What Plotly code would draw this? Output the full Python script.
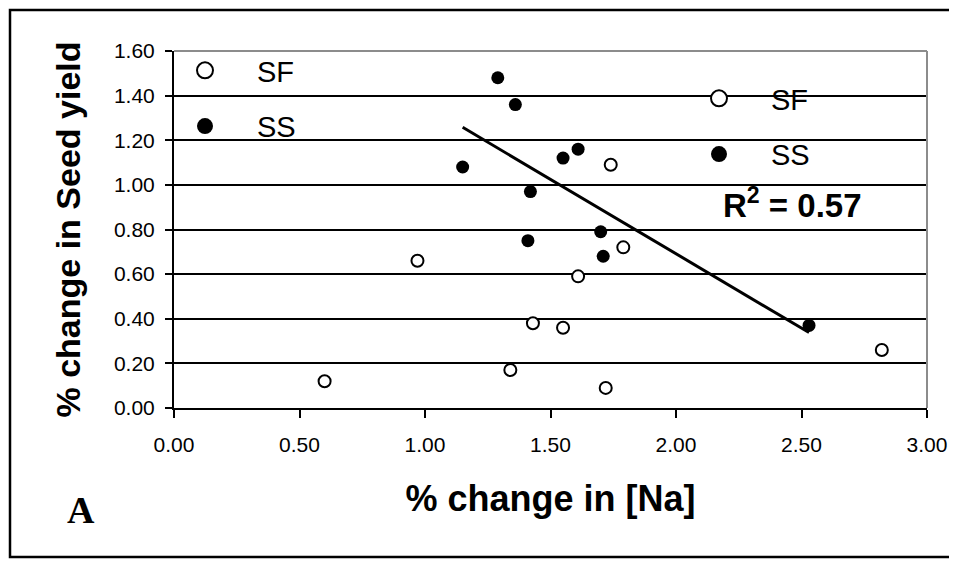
import numpy as np
import plotly.graph_objects as go

# ---- data ----
sf_x = [0.60, 0.97, 1.34, 1.43, 1.55, 1.61, 1.72, 1.74, 1.79, 2.82]
sf_y = [0.12, 0.66, 0.17, 0.38, 0.36, 0.59, 0.09, 1.09, 0.72, 0.26]
ss_x = [1.15, 1.29, 1.36, 1.41, 1.42, 1.55, 1.61, 1.70, 1.71, 2.53]
ss_y = [1.08, 1.48, 1.36, 0.75, 0.97, 1.12, 1.16, 0.79, 0.68, 0.37]
series_names = ["SF", "SS"]
x_title = "% change in [Na]"
y_title = "% change in Seed yield"
r2_label = "R<sup>2</sup> = 0.57"
panel_label = "A"

OFF = 8  # page body margin
W, H = 957 - OFF, 562 - OFF
L, R, T, B = 174 - OFF, 957 - 927, 51 - OFF, 562 - 408
PW, PH = W - L - R, H - T - B

def px_x(p):
    return (p - OFF - L) / PW

def px_y(p):
    return (T + PH - (p - OFF)) / PH

FONT = "Liberation Sans, Arial, sans-serif"

# linear trend of SS series
coef = np.polyfit(ss_x, ss_y, 1)
tx = np.array([min(ss_x), max(ss_x)])
ty = np.polyval(coef, tx)

fig = go.Figure()

open_marker = dict(symbol="circle", color="white", size=12, line=dict(color="black", width=2))
fill_marker = dict(symbol="circle", color="black", size=13, line=dict(color="black", width=0))

fig.add_trace(go.Scatter(x=sf_x, y=sf_y, mode="markers", name=series_names[0],
                         marker=open_marker, showlegend=False, legendgroup="sf"))
fig.add_trace(go.Scatter(x=ss_x, y=ss_y, mode="markers", name=series_names[1],
                         marker=fill_marker, showlegend=False, legendgroup="ss"))
fig.add_trace(go.Scatter(x=tx, y=ty, mode="lines", line=dict(color="black", width=3),
                         showlegend=False, hoverinfo="skip"))

leg_open = dict(symbol="circle", color="white", size=16, line=dict(color="black", width=2))
leg_fill = dict(symbol="circle", color="black", size=16, line=dict(width=0))
for lg in ["legend", "legend2"]:
    fig.add_trace(go.Scatter(x=[None], y=[None], mode="markers", name=series_names[0],
                             marker=leg_open, legend=lg, legendgroup="sf" + lg, showlegend=True))
    fig.add_trace(go.Scatter(x=[None], y=[None], mode="markers", name=series_names[1],
                             marker=leg_fill, legend=lg, legendgroup="ss" + lg, showlegend=True))

legend_common = dict(
    xanchor="left", yanchor="top", bgcolor="rgba(0,0,0,0)", borderwidth=0,
    font=dict(family=FONT, size=29, color="black"),
    itemwidth=94, tracegroupgap=15, traceorder="grouped", itemsizing="trace",
)

fig.update_layout(
    width=W, height=H,
    margin=dict(l=L, r=R, t=T, b=B, autoexpand=False),
    paper_bgcolor="white", plot_bgcolor="white",
    font=dict(family=FONT, color="black"),
    legend=dict(x=px_x(153), y=px_y(45), **legend_common),
    legend2=dict(x=px_x(667), y=px_y(73), **legend_common),
    xaxis=dict(
        range=[0, 3], dtick=0.5, tick0=0, tickformat=".2f",
        showgrid=False, zeroline=False,
        showline=True, linecolor="black", linewidth=2,
        ticks="outside", ticklen=8, tickwidth=2, tickcolor="black",
        ticklabelstandoff=9,
        tickfont=dict(family=FONT, size=21, color="black"),
        title=dict(text=x_title, font=dict(family=FONT, size=36, color="black", weight="bold"),
                   standoff=31),
        automargin=False,
    ),
    yaxis=dict(
        range=[0, 1.6], dtick=0.2, tick0=0, tickformat=".2f",
        showgrid=True, gridcolor="black", gridwidth=2,
        zeroline=False,
        showline=True, linecolor="black", linewidth=2,
        ticks="outside", ticklen=7, tickwidth=2, tickcolor="black",
        ticklabelstandoff=6,
        tickfont=dict(family=FONT, size=21, color="black"),
        title=dict(text=y_title, font=dict(family=FONT, size=34, color="black", weight="bold"),
                   standoff=23),
        automargin=False,
    ),
    shapes=[
        # plot-area border (top and right, grey)
        dict(type="line", xref="paper", yref="paper", x0=0, x1=1, y0=1, y1=1,
             line=dict(color="#8c8c8c", width=2), layer="above"),
        dict(type="line", xref="paper", yref="paper", x0=1, x1=1, y0=0, y1=1,
             line=dict(color="#8c8c8c", width=2), layer="above"),
        # outer frame
        dict(type="rect", xref="paper", yref="paper",
             x0=px_x(10), x1=px_x(952), y0=px_y(557), y1=px_y(10),
             line=dict(color="black", width=2.5), fillcolor="rgba(0,0,0,0)", layer="above"),
    ],
    annotations=[
        dict(text="<b>" + r2_label + "</b>", xref="paper", yref="paper",
             x=px_x(721), y=px_y(203), xanchor="left", yanchor="middle",
             showarrow=False, font=dict(family=FONT, size=33, color="black")),
        dict(text="<b>" + panel_label + "</b>", xref="paper", yref="paper",
             x=px_x(81), y=px_y(510), xanchor="center", yanchor="middle",
             showarrow=False, font=dict(family="Liberation Serif, Times New Roman, serif",
                                         size=38, color="black")),
    ],
)

fig.write_html("out.html")
